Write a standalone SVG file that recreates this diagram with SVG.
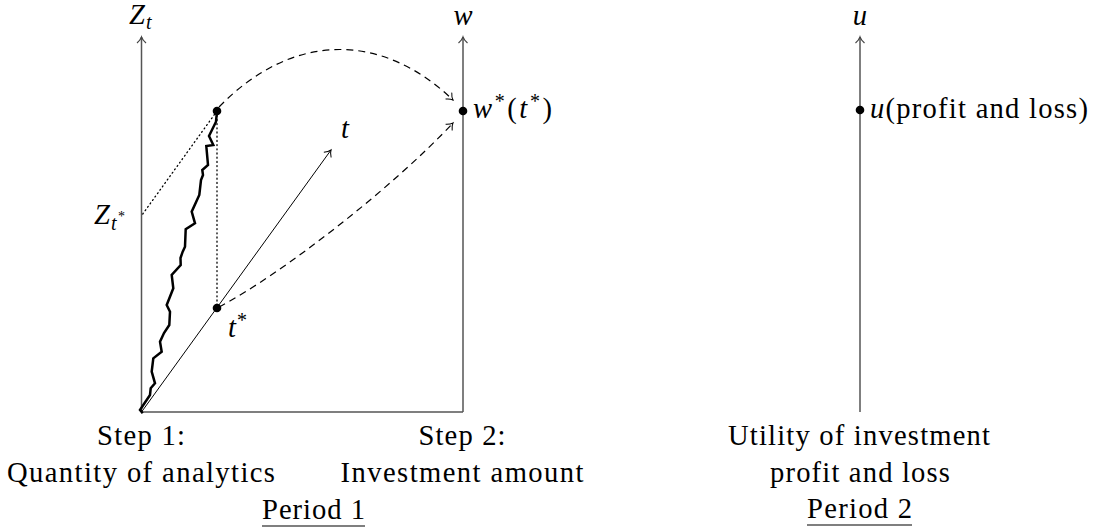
<svg xmlns="http://www.w3.org/2000/svg" width="1094" height="531" viewBox="0 0 1094 531">
<style>
.axis{stroke:#555;stroke-width:1.5;fill:none}
.thin{stroke:#000;stroke-width:1;fill:none}
.dash{stroke:#000;stroke-width:1.2;fill:none;stroke-dasharray:7 5}
.dot{stroke:#000;stroke-width:1.3;fill:none;stroke-dasharray:1 3.2;stroke-linecap:round}
.walk{stroke:#000;stroke-width:2.5;fill:none;stroke-linejoin:miter}
.lbl{font-family:"Liberation Serif","Times New Roman",serif;font-size:28.6px;fill:#000}
.math{font-family:"Liberation Serif","Times New Roman",serif;font-size:28.6px;font-style:italic;fill:#000}
.sub{font-size:20px}
.sub2{font-size:14px;font-style:normal}
.pt{fill:#000}
</style>
<defs>
<marker id="arr" markerUnits="userSpaceOnUse" markerWidth="14" markerHeight="14" refX="10" refY="7" orient="auto">
<path d="M4,2.5 Q7,6 10,7 Q7,8 4,11.5" fill="none" stroke="#000" stroke-width="1" stroke-dasharray="none"/>
</marker>
<marker id="arrg" markerUnits="userSpaceOnUse" markerWidth="14" markerHeight="14" refX="10" refY="7" orient="auto">
<path d="M4,2.5 Q7,6 10,7 Q7,8 4,11.5" fill="none" stroke="#444" stroke-width="1.2" stroke-dasharray="none"/>
</marker>
</defs>

<g id="axes">
<line class="axis" x1="141.5" y1="412" x2="141.5" y2="37" marker-end="url(#arrg)"/>
<line class="axis" x1="141.5" y1="412" x2="463" y2="412"/>
<line class="axis" x1="463" y1="412" x2="463" y2="37" marker-end="url(#arrg)"/>
<line class="axis" x1="860" y1="412" x2="860" y2="37" marker-end="url(#arrg)"/>
<line class="thin" x1="141.5" y1="412" x2="331" y2="150" marker-end="url(#arr)"/>
</g>

<g id="walk">
<polyline class="walk" points="217,111 216,121.7 209,136 213.3,145 206.3,146 208,165 202.3,170 203,175 201,180 199.3,195 191.7,211.7 195,223.3 185.7,229.3 185,246.7 182.7,251.7 180.5,258 180.7,265 171.7,275 173.3,288.3 166.7,305 170,311.7 169.3,325 164,333 160,341.7 161.7,351.7 153.3,358.3 151.7,371.7 155,383.3 150.7,388.3 150,395 143.3,405 140,410 142.7,413.3"/>
</g>

<g id="connectors">
<line class="dot" x1="217" y1="111" x2="217" y2="306"/>
<line class="dot" x1="217" y1="111" x2="142" y2="215"/>
<path class="dash" d="M219,107 C293,31 382,32 453,100" marker-end="url(#arr)"/>
<path class="dash" d="M219,307 C280,275 390,190 453,123" marker-end="url(#arr)"/>
</g>

<g id="node-zt">
<text class="math" x="129" y="24" font-size="27">Z</text>
<text class="math sub" x="146" y="29">t</text>
</g>
<g id="node-w">
<text class="math" x="463" y="25" text-anchor="middle">w</text>
</g>
<g id="node-u">
<text class="math" x="860" y="25" text-anchor="middle">u</text>
</g>
<g id="node-t">
<text class="math" x="341" y="138">t</text>
</g>
<g id="node-peak">
<circle class="pt" cx="217" cy="111" r="4.3"/>
</g>
<g id="node-zstar">
<text class="math" x="94" y="224">Z</text>
<text class="math sub" x="111" y="230">t</text>
<text class="math sub2" x="118" y="221">*</text>
</g>
<g id="node-tstar">
<circle class="pt" cx="217" cy="308" r="4.3"/>
<text class="math" x="228" y="337">t</text>
<text class="lbl sub" x="237" y="327">*</text>
</g>
<g id="node-wstar">
<circle class="pt" cx="463" cy="111" r="4.3"/>
<text class="lbl" x="473" y="118" textLength="79" lengthAdjust="spacing"><tspan font-style="italic">w</tspan><tspan class="sub" dy="-10">*</tspan><tspan dy="10">(</tspan><tspan font-style="italic">t</tspan><tspan class="sub" dy="-10">*</tspan><tspan dy="10">)</tspan></text>
</g>
<g id="node-ustar">
<circle class="pt" cx="860" cy="110" r="4.3"/>
<text class="lbl" x="870" y="118" textLength="218" lengthAdjust="spacing"><tspan font-style="italic">u</tspan>(profit and loss)</text>
</g>

<g id="label-step1">
<text class="lbl" x="141" y="445" text-anchor="middle" textLength="88" lengthAdjust="spacing">Step 1:</text>
<text class="lbl" x="141" y="482" text-anchor="middle" textLength="268" lengthAdjust="spacing">Quantity of analytics</text>
</g>
<g id="label-step2">
<text class="lbl" x="462" y="445" text-anchor="middle" textLength="87" lengthAdjust="spacing">Step 2:</text>
<text class="lbl" x="462" y="482" text-anchor="middle" textLength="243" lengthAdjust="spacing">Investment amount</text>
</g>
<g id="label-period1">
<text class="lbl" x="313.5" y="519" text-anchor="middle" textLength="103" lengthAdjust="spacing">Period 1</text>
<line x1="262" y1="526" x2="365" y2="526" stroke="#000" stroke-width="1.1"/>
</g>
<g id="label-utility">
<text class="lbl" x="859" y="445" text-anchor="middle" textLength="262" lengthAdjust="spacing">Utility of investment</text>
<text class="lbl" x="860" y="482" text-anchor="middle" textLength="180" lengthAdjust="spacing">profit and loss</text>
</g>
<g id="label-period2">
<text class="lbl" x="859.5" y="518" text-anchor="middle" textLength="105" lengthAdjust="spacing">Period 2</text>
<line x1="807" y1="525" x2="912" y2="525" stroke="#000" stroke-width="1.1"/>
</g>
</svg>
